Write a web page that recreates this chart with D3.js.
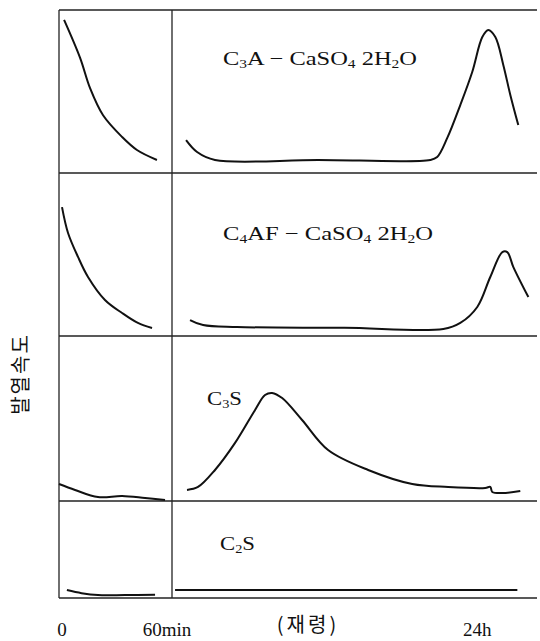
<html>
<head>
<style>
    body {
        margin: 0;
        background: #ffffff;
    }
    svg {
        display: block;
    }
    text {
        font-family: "Liberation Serif", "DejaVu Serif", serif;
        fill: #111111;
    }
</style>
<script src="https://d3js.org/d3.v7.min.js"></script>
</head>
<body>
<svg id="Chart"></svg>
</body>
<script>

// early part: x in minutes, y relative heat rate (0-100 in each panel)
// later part: x in hours
let labels = ["C_3A − CaSO_4 2H_2O", "C_4AF − CaSO_4 2H_2O", "C_3S", "C_2S"]

let earlyC3A = [[2.7, 93.9], [11.2, 70.6], [16.5, 52.0], [23.4, 35.4], [33.5, 22.1], [41.4, 14.1], [52.0, 8.0]]
let lateC3A = [[2.06, 20.2], [2.89, 12.9], [4.24, 8.0], [12, 8.0], [20.46, 8.0], [20.98, 9.8], [21.74, 21.5],
    [22.72, 41.7], [23.62, 62.0], [24.38, 83.4], [24.83, 87.7], [25.36, 83.4], [25.96, 66.3],
    [26.49, 47.9], [27.09, 29.4]]

let earlyC4AF = [[1.6, 79.1], [4.8, 63.2], [10.1, 48.5], [15.4, 36.2], [24.4, 22.1], [33.5, 14.1], [41.9, 8.0], [49.4, 4.9]]
let lateC4AF = [[2.36, 9.8], [3.34, 6.7], [5.9, 5.5], [14, 5.0], [21.44, 4.3], [22.72, 8.0], [24.0, 17.8],
    [24.98, 36.2], [25.89, 51.5], [26.26, 51.5], [26.72, 42.3], [27.85, 23.9]]

let earlyC3S = [[0, 10.3], [8.5, 6.7], [20.7, 2.4], [33.5, 3.0], [45.7, 1.8], [56.3, 0.6]]
let lateC3S = [[2.13, 6.7], [2.96, 8.5], [4.24, 18.8], [5.75, 35.2], [7.26, 55.2], [8.01, 64.2], [8.54, 65.5],
    [9.3, 62.4], [10.8, 49.1], [12.76, 30.9], [15.78, 18.8], [19.1, 10.3], [21.81, 8.5], [24.6, 7.9],
    [24.98, 8.5], [25.13, 5.5], [25.89, 4.8], [27.24, 6.1]]

let earlyC2S = [[4.2, 8.2], [12, 5.0], [20.7, 3.0], [35, 3.0], [51.0, 3.3]]
let lateC2S = [[1.23, 8.2], [27.02, 8.2]]

let earlySeries = [earlyC3A, earlyC4AF, earlyC3S, earlyC2S]
let lateSeries = [lateC3A, lateC4AF, lateC3S, lateC2S]

let xTicks = [["0", "early", 0], ["60min", "early", 60], ["24h", "late", 24]]
let yTitle = "발열속도"
let xTitle = "(재령)"

function getConfig() {
    let width = 540
    let height = 641
    let container = d3.select("#Chart")
        .attr("width", width)
        .attr("height", height)
    let left = 59, split = 172, right = 537
    let bounds = [10, 173, 336, 501, 598]
    return {width, height, container, left, split, right, bounds}
}

function drawLabel(g, str, x, y, len) {
    let t = g.append("text")
        .attr("x", x)
        .attr("y", y)
        .attr("textLength", len)
        .attr("lengthAdjust", "spacingAndGlyphs")
        .style("font-size", "19px")
        .style("white-space", "pre")
    let parts = str.split(/(_\d)/)
    parts.forEach(p => {
        if (p.startsWith("_")) {
            t.append("tspan")
                .text(p.slice(1))
                .style("font-size", "12px")
                .attr("dy", 3)
        } else if (p.length) {
            t.append("tspan").attr("dy", parts.indexOf(p) > 0 ? -3 : 0).text(p)
        }
    })
    return t
}

function drawChart() {
    let config = getConfig()
    let {container, left, split, right, bounds} = config

    let xEarly = d3.scaleLinear().domain([0, 60]).range([left, split])
    let xLate = d3.scaleLinear().domain([1, 28.5]).range([split, right])

    let frame = container.append("g")
        .attr("stroke", "#222")
        .attr("stroke-width", 1.3)

    bounds.forEach(b => {
        frame.append("line")
            .attr("x1", left).attr("x2", right)
            .attr("y1", b).attr("y2", b)
    })
    frame.append("line")
        .attr("x1", left).attr("x2", left)
        .attr("y1", bounds[0]).attr("y2", bounds[4])
    frame.append("line")
        .attr("x1", split).attr("x2", split)
        .attr("y1", bounds[0]).attr("y2", bounds[4])

    let labelPos = [[223, 65, 194], [223, 240, 210], [207, 405, 35], [220, 550, 35]]

    for (let i = 0; i < 4; i++) {
        let y = d3.scaleLinear().domain([0, 100]).range([bounds[i + 1], bounds[i]])

        let lineEarly = d3.line()
            .x(d => xEarly(d[0]))
            .y(d => y(d[1]))
            .curve(d3.curveCatmullRom.alpha(0.5))
        let lineLate = d3.line()
            .x(d => xLate(d[0]))
            .y(d => y(d[1]))
            .curve(d3.curveCatmullRom.alpha(0.5))

        container.append("path")
            .attr("d", lineEarly(earlySeries[i]))
            .attr("fill", "none")
            .attr("stroke", "#111")
            .attr("stroke-width", 2)
        container.append("path")
            .attr("d", lineLate(lateSeries[i]))
            .attr("fill", "none")
            .attr("stroke", "#111")
            .attr("stroke-width", 2)

        drawLabel(container, labels[i], labelPos[i][0], labelPos[i][1], labelPos[i][2])
    }

    xTicks.forEach(t => {
        let x = t[1] == "early" ? xEarly(t[2]) : xLate(t[2])
        if (t[2] == 0) x += 3
        if (t[0] == "60min") x -= 5
        container.append("text")
            .attr("x", x)
            .attr("y", 636)
            .attr("text-anchor", "middle")
            .style("font-size", "19px")
            .text(t[0])
    })

    container.append("text")
        .attr("x", 308)
        .attr("y", 632)
        .attr("text-anchor", "middle")
        .style("font-family", "'Noto Sans CJK KR', sans-serif")
        .style("font-size", "20px")
        .style("letter-spacing", "3px")
        .text(xTitle)

    container.append("text")
        .attr("transform", "translate(28, 374) rotate(-90)")
        .attr("text-anchor", "middle")
        .style("font-family", "'Noto Sans CJK KR', sans-serif")
        .style("font-size", "20px")
        .style("letter-spacing", "2px")
        .text(yTitle)
}

drawChart()

</script>
</html>
